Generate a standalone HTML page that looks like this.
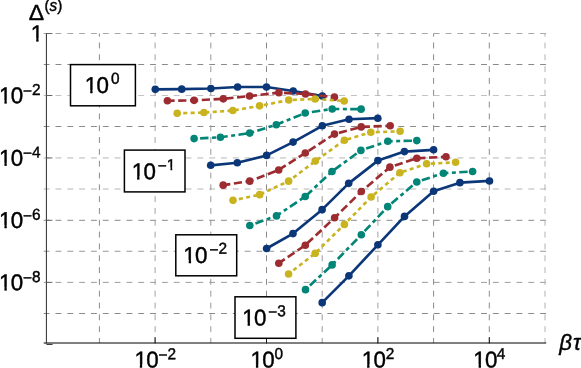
<!DOCTYPE html>
<html><head><meta charset="utf-8"><title>chart</title>
<style>html,body{margin:0;padding:0;background:#fff}svg{display:block}text{filter:grayscale(1);font-family:"Liberation Sans",sans-serif;fill:#000;stroke:#000;stroke-width:0.42px}</style></head>
<body>
<svg width="581" height="368" viewBox="0 0 581 368">
<rect width="581" height="368" fill="#fff"/>
<line x1="43.7" y1="33.50" x2="546.6" y2="33.50" stroke="#a8a8a8" stroke-width="1" stroke-dasharray="5.91 5.91"/>
<line x1="43.7" y1="64.50" x2="546.6" y2="64.50" stroke="#8a8a8a" stroke-width="1" stroke-dasharray="5.91 5.91"/>
<line x1="43.7" y1="95.50" x2="546.6" y2="95.50" stroke="#c2c2c2" stroke-width="1" stroke-dasharray="5.91 5.91"/>
<line x1="43.7" y1="126.50" x2="546.6" y2="126.50" stroke="#8a8a8a" stroke-width="1" stroke-dasharray="5.91 5.91"/>
<line x1="43.7" y1="157.94" x2="546.6" y2="157.94" stroke="#b6b6b6" stroke-width="1" stroke-dasharray="5.91 5.91"/>
<line x1="43.7" y1="189.00" x2="546.6" y2="189.00" stroke="#b6b6b6" stroke-width="1" stroke-dasharray="5.91 5.91"/>
<line x1="43.7" y1="220.30" x2="546.6" y2="220.30" stroke="#8a8a8a" stroke-width="1" stroke-dasharray="5.91 5.91"/>
<line x1="43.7" y1="251.27" x2="546.6" y2="251.27" stroke="#999999" stroke-width="1" stroke-dasharray="5.91 5.91"/>
<line x1="43.7" y1="282.38" x2="546.6" y2="282.38" stroke="#9c9c9c" stroke-width="1" stroke-dasharray="5.91 5.91"/>
<line x1="43.7" y1="313.50" x2="546.6" y2="313.50" stroke="#8a8a8a" stroke-width="1" stroke-dasharray="5.91 5.91"/>
<line x1="99.40" y1="33.5" x2="99.40" y2="343" stroke="#8a8a8a" stroke-width="1" stroke-dasharray="5.91 5.91" stroke-dashoffset="2.8"/>
<line x1="155.10" y1="33.5" x2="155.10" y2="343" stroke="#a2a2a2" stroke-width="1" stroke-dasharray="5.91 5.91" stroke-dashoffset="2.8"/>
<line x1="210.80" y1="33.5" x2="210.80" y2="343" stroke="#989898" stroke-width="1" stroke-dasharray="5.91 5.91" stroke-dashoffset="2.8"/>
<line x1="266.50" y1="33.5" x2="266.50" y2="343" stroke="#8a8a8a" stroke-width="1" stroke-dasharray="5.91 5.91" stroke-dashoffset="2.8"/>
<line x1="322.20" y1="33.5" x2="322.20" y2="343" stroke="#989898" stroke-width="1" stroke-dasharray="5.91 5.91" stroke-dashoffset="2.8"/>
<line x1="377.90" y1="33.5" x2="377.90" y2="343" stroke="#a2a2a2" stroke-width="1" stroke-dasharray="5.91 5.91" stroke-dashoffset="2.8"/>
<line x1="433.60" y1="33.5" x2="433.60" y2="343" stroke="#8a8a8a" stroke-width="1" stroke-dasharray="5.91 5.91" stroke-dashoffset="2.8"/>
<line x1="489.30" y1="33.5" x2="489.30" y2="343" stroke="#8a8a8a" stroke-width="1" stroke-dasharray="5.91 5.91" stroke-dashoffset="2.8"/>
<line x1="545.00" y1="33.5" x2="545.00" y2="343" stroke="#b2b2b2" stroke-width="1" stroke-dasharray="5.91 5.91" stroke-dashoffset="2.8"/>
<line x1="43.7" y1="343" x2="546.2" y2="343" stroke="#000" stroke-width="1"/>
<line x1="46.4" y1="33" x2="46.4" y2="343.5" stroke="#2a2a2a" stroke-width="1"/>
<line x1="155.10" y1="337" x2="155.10" y2="343.5" stroke="#1a1a1a" stroke-width="1"/>
<line x1="266.50" y1="337" x2="266.50" y2="343.5" stroke="#1a1a1a" stroke-width="1"/>
<line x1="377.90" y1="337" x2="377.90" y2="343.5" stroke="#1a1a1a" stroke-width="1"/>
<line x1="489.30" y1="337" x2="489.30" y2="343.5" stroke="#1a1a1a" stroke-width="1"/>
<line x1="46.4" y1="33.50" x2="52.4" y2="33.50" stroke="#666" stroke-width="1"/>
<line x1="46.4" y1="95.50" x2="52.4" y2="95.50" stroke="#666" stroke-width="1"/>
<line x1="46.4" y1="157.94" x2="52.4" y2="157.94" stroke="#666" stroke-width="1"/>
<line x1="46.4" y1="220.30" x2="52.4" y2="220.30" stroke="#666" stroke-width="1"/>
<line x1="46.4" y1="282.38" x2="52.4" y2="282.38" stroke="#666" stroke-width="1"/>
<line x1="46.4" y1="344.4" x2="52.6" y2="344.4" stroke="#2a2a2a" stroke-width="1"/>
<path d="M155.30 89.35 L181.70 89.15 L210.90 88.55 L237.60 86.95 L266.50 86.95 L293.20 90.95 L322.30 96.06" fill="none" stroke="#0b3779" stroke-width="2.65" stroke-linejoin="round"/>
<g fill="#0b3779"><circle cx="155.30" cy="89.35" r="3.8"/><circle cx="181.70" cy="89.15" r="3.8"/><circle cx="210.90" cy="88.55" r="3.8"/><circle cx="237.60" cy="86.95" r="3.8"/><circle cx="266.50" cy="86.95" r="3.8"/><circle cx="293.20" cy="90.95" r="3.8"/><circle cx="322.30" cy="96.06" r="3.8"/></g>
<path d="M167.40 100.76 L194.10 100.36 L223.30 98.86 L249.60 96.06 L278.90 92.65 L305.50 94.05 L334.40 97.16" fill="none" stroke="#9d2c31" stroke-width="2.65" stroke-linejoin="round" stroke-dasharray="8.2 3.6" stroke-dashoffset="1.0"/>
<g fill="#9d2c31"><circle cx="167.40" cy="100.76" r="3.8"/><circle cx="194.10" cy="100.36" r="3.8"/><circle cx="223.30" cy="98.86" r="3.8"/><circle cx="249.60" cy="96.06" r="3.8"/><circle cx="278.90" cy="92.65" r="3.8"/><circle cx="305.50" cy="94.05" r="3.8"/><circle cx="334.40" cy="97.16" r="3.8"/></g>
<path d="M177.20 113.27 L203.90 112.57 L232.80 110.57 L259.60 105.87 L288.70 100.06 L315.10 98.96 L344.20 100.96" fill="none" stroke="#c9b41f" stroke-width="2.65" stroke-linejoin="round" stroke-dasharray="4.05 3.33" stroke-dashoffset="1.35"/>
<g fill="#c9b41f"><circle cx="177.20" cy="113.27" r="3.8"/><circle cx="203.90" cy="112.57" r="3.8"/><circle cx="232.80" cy="110.57" r="3.8"/><circle cx="259.60" cy="105.87" r="3.8"/><circle cx="288.70" cy="100.06" r="3.8"/><circle cx="315.10" cy="98.96" r="3.8"/><circle cx="344.20" cy="100.96" r="3.8"/></g>
<path d="M194.10 138.60 L220.40 137.30 L249.70 133.09 L276.30 124.68 L305.20 113.07 L332.20 108.97 L361.10 109.17" fill="none" stroke="#008577" stroke-width="2.65" stroke-linejoin="round" stroke-dasharray="8.4 3.5 4.0 3.39" stroke-dashoffset="13.29"/>
<g fill="#008577"><circle cx="194.10" cy="138.60" r="3.8"/><circle cx="220.40" cy="137.30" r="3.8"/><circle cx="249.70" cy="133.09" r="3.8"/><circle cx="276.30" cy="124.68" r="3.8"/><circle cx="305.20" cy="113.07" r="3.8"/><circle cx="332.20" cy="108.97" r="3.8"/><circle cx="361.10" cy="109.17" r="3.8"/></g>
<path d="M210.70 165.32 L237.30 162.72 L266.60 155.42 L293.10 142.10 L322.30 125.79 L349.00 119.28 L377.80 118.18" fill="none" stroke="#0b3779" stroke-width="2.65" stroke-linejoin="round"/>
<g fill="#0b3779"><circle cx="210.70" cy="165.32" r="3.8"/><circle cx="237.30" cy="162.72" r="3.8"/><circle cx="266.60" cy="155.42" r="3.8"/><circle cx="293.10" cy="142.10" r="3.8"/><circle cx="322.30" cy="125.79" r="3.8"/><circle cx="349.00" cy="119.28" r="3.8"/><circle cx="377.80" cy="118.18" r="3.8"/></g>
<path d="M223.20 185.14 L249.70 181.14 L278.70 169.93 L305.30 153.01 L334.50 134.09 L361.20 126.89 L390.20 125.79" fill="none" stroke="#9d2c31" stroke-width="2.65" stroke-linejoin="round" stroke-dasharray="8.2 3.6" stroke-dashoffset="1.0"/>
<g fill="#9d2c31"><circle cx="223.20" cy="185.14" r="3.8"/><circle cx="249.70" cy="181.14" r="3.8"/><circle cx="278.70" cy="169.93" r="3.8"/><circle cx="305.30" cy="153.01" r="3.8"/><circle cx="334.50" cy="134.09" r="3.8"/><circle cx="361.20" cy="126.89" r="3.8"/><circle cx="390.20" cy="125.79" r="3.8"/></g>
<path d="M233.00 200.36 L259.70 194.65 L288.60 181.14 L315.30 161.12 L344.40 140.20 L370.80 132.29 L400.10 131.29" fill="none" stroke="#c9b41f" stroke-width="2.65" stroke-linejoin="round" stroke-dasharray="4.05 3.33" stroke-dashoffset="1.35"/>
<g fill="#c9b41f"><circle cx="233.00" cy="200.36" r="3.8"/><circle cx="259.70" cy="194.65" r="3.8"/><circle cx="288.60" cy="181.14" r="3.8"/><circle cx="315.30" cy="161.12" r="3.8"/><circle cx="344.40" cy="140.20" r="3.8"/><circle cx="370.80" cy="132.29" r="3.8"/><circle cx="400.10" cy="131.29" r="3.8"/></g>
<path d="M249.80 225.49 L276.50 215.88 L305.20 196.56 L332.00 171.43 L360.90 150.41 L387.80 141.30 L416.80 140.60" fill="none" stroke="#008577" stroke-width="2.65" stroke-linejoin="round" stroke-dasharray="8.4 3.5 4.0 3.39" stroke-dashoffset="13.29"/>
<g fill="#008577"><circle cx="249.80" cy="225.49" r="3.8"/><circle cx="276.50" cy="215.88" r="3.8"/><circle cx="305.20" cy="196.56" r="3.8"/><circle cx="332.00" cy="171.43" r="3.8"/><circle cx="360.90" cy="150.41" r="3.8"/><circle cx="387.80" cy="141.30" r="3.8"/><circle cx="416.80" cy="140.60" r="3.8"/></g>
<path d="M266.60 248.51 L293.00 233.59 L322.10 209.67 L348.70 183.34 L377.90 160.62 L404.40 151.61 L433.60 149.81" fill="none" stroke="#0b3779" stroke-width="2.65" stroke-linejoin="round"/>
<g fill="#0b3779"><circle cx="266.60" cy="248.51" r="3.8"/><circle cx="293.00" cy="233.59" r="3.8"/><circle cx="322.10" cy="209.67" r="3.8"/><circle cx="348.70" cy="183.34" r="3.8"/><circle cx="377.90" cy="160.62" r="3.8"/><circle cx="404.40" cy="151.61" r="3.8"/><circle cx="433.60" cy="149.81" r="3.8"/></g>
<path d="M278.80 263.22 L305.30 245.20 L334.60 217.78 L361.30 191.55 L389.90 167.13 L416.80 158.32 L446.00 156.82" fill="none" stroke="#9d2c31" stroke-width="2.65" stroke-linejoin="round" stroke-dasharray="8.2 3.6" stroke-dashoffset="1.0"/>
<g fill="#9d2c31"><circle cx="278.80" cy="263.22" r="3.8"/><circle cx="305.30" cy="245.20" r="3.8"/><circle cx="334.60" cy="217.78" r="3.8"/><circle cx="361.30" cy="191.55" r="3.8"/><circle cx="389.90" cy="167.13" r="3.8"/><circle cx="416.80" cy="158.32" r="3.8"/><circle cx="446.00" cy="156.82" r="3.8"/></g>
<path d="M288.60 273.93 L315.20 253.31 L344.40 224.38 L371.10 197.06 L399.90 172.73 L426.60 163.82 L455.60 162.32" fill="none" stroke="#c9b41f" stroke-width="2.65" stroke-linejoin="round" stroke-dasharray="4.05 3.33" stroke-dashoffset="1.35"/>
<g fill="#c9b41f"><circle cx="288.60" cy="273.93" r="3.8"/><circle cx="315.20" cy="253.31" r="3.8"/><circle cx="344.40" cy="224.38" r="3.8"/><circle cx="371.10" cy="197.06" r="3.8"/><circle cx="399.90" cy="172.73" r="3.8"/><circle cx="426.60" cy="163.82" r="3.8"/><circle cx="455.60" cy="162.32" r="3.8"/></g>
<path d="M305.50 289.65 L332.10 264.92 L361.30 234.69 L387.70 206.67 L416.80 181.94 L443.40 173.23 L472.60 171.43" fill="none" stroke="#008577" stroke-width="2.65" stroke-linejoin="round" stroke-dasharray="8.4 3.5 4.0 3.39" stroke-dashoffset="13.29"/>
<g fill="#008577"><circle cx="305.50" cy="289.65" r="3.8"/><circle cx="332.10" cy="264.92" r="3.8"/><circle cx="361.30" cy="234.69" r="3.8"/><circle cx="387.70" cy="206.67" r="3.8"/><circle cx="416.80" cy="181.94" r="3.8"/><circle cx="443.40" cy="173.23" r="3.8"/><circle cx="472.60" cy="171.43" r="3.8"/></g>
<path d="M322.20 302.66 L348.90 275.84 L377.90 244.80 L404.50 216.38 L433.60 191.25 L459.90 182.64 L489.50 180.94" fill="none" stroke="#0b3779" stroke-width="2.65" stroke-linejoin="round"/>
<g fill="#0b3779"><circle cx="322.20" cy="302.66" r="3.8"/><circle cx="348.90" cy="275.84" r="3.8"/><circle cx="377.90" cy="244.80" r="3.8"/><circle cx="404.50" cy="216.38" r="3.8"/><circle cx="433.60" cy="191.25" r="3.8"/><circle cx="459.90" cy="182.64" r="3.8"/><circle cx="489.50" cy="180.94" r="3.8"/></g>
<rect x="70.5" y="64.6" width="64.9" height="41.2" fill="#fff" stroke="#000" stroke-width="1.5"/>
<text transform="translate(84.80 93.10) rotate(0.03) scale(1 1.025)" font-size="22.3" >1<tspan dx="-0.6">0</tspan><tspan font-size="15.4" dy="-9.07" dx="1.9000000000000001">0</tspan></text>
<path d="M85.13 90.09H90.21V95.30H85.13ZM92.58 90.09H97.10V95.30H92.58Z" fill="#fff"/>
<rect x="124.4" y="150.1" width="60.599999999999994" height="41.80000000000001" fill="#fff" stroke="#000" stroke-width="1.5"/>
<text transform="translate(131.70 179.30) rotate(0.03) scale(1 1.025)" font-size="22.3" >1<tspan dx="-0.6">0</tspan><tspan font-size="15.4" dy="-8.00" dx="1.9000000000000001">−</tspan><tspan font-size="15.4" dy="-1.07">1</tspan></text>
<path d="M167.02 167.52H170.47V172.20H167.02ZM172.23 167.52H175.29V172.20H172.23Z" fill="#fff"/>
<path d="M132.03 176.29H137.11V181.50H132.03ZM139.48 176.29H144.00V181.50H139.48Z" fill="#fff"/>
<rect x="175.8" y="234.8" width="60.89999999999998" height="41.0" fill="#fff" stroke="#000" stroke-width="1.5"/>
<text transform="translate(183.30 263.10) rotate(0.03) scale(1 1.025)" font-size="22.3" >1<tspan dx="-0.6">0</tspan><tspan font-size="15.4" dy="-8.00" dx="1.9000000000000001">−</tspan><tspan font-size="15.4" dy="-1.07">2</tspan></text>
<path d="M183.63 260.09H188.71V265.30H183.63ZM191.08 260.09H195.60V265.30H191.08Z" fill="#fff"/>
<rect x="235.0" y="296.8" width="60.89999999999998" height="41.5" fill="#fff" stroke="#000" stroke-width="1.5"/>
<text transform="translate(242.20 325.40) rotate(0.03) scale(1 1.025)" font-size="22.3" >1<tspan dx="-0.6">0</tspan><tspan font-size="15.4" dy="-8.00" dx="1.9000000000000001">−</tspan><tspan font-size="15.4" dy="-1.07">3</tspan></text>
<path d="M242.53 322.39H247.61V327.60H242.53ZM249.98 322.39H254.50V327.60H249.98Z" fill="#fff"/>
<text transform="translate(30.80 41.30) rotate(0.03) scale(1 1.025)" font-size="22.3" >1</text>
<path d="M31.13 38.29H36.21V43.50H31.13ZM38.58 38.29H43.10V43.50H38.58Z" fill="#fff"/>
<text transform="translate(-1.00 103.30) rotate(0.03) scale(1 1.025)" font-size="22.3" >1<tspan dx="-0.6">0</tspan><tspan font-size="15.4" dy="-7.02" dx="-0.10000000000000003">−</tspan><tspan font-size="15.4" dy="-1.07">2</tspan></text>
<path d="M-0.67 100.29H4.41V105.50H-0.67ZM6.78 100.29H11.30V105.50H6.78Z" fill="#fff"/>
<text transform="translate(-1.00 165.74) rotate(0.03) scale(1 1.025)" font-size="22.3" >1<tspan dx="-0.6">0</tspan><tspan font-size="15.4" dy="-7.02" dx="-0.10000000000000003">−</tspan><tspan font-size="15.4" dy="-1.07">4</tspan></text>
<path d="M-0.67 162.73H4.41V167.94H-0.67ZM6.78 162.73H11.30V167.94H6.78Z" fill="#fff"/>
<text transform="translate(-1.00 228.10) rotate(0.03) scale(1 1.025)" font-size="22.3" >1<tspan dx="-0.6">0</tspan><tspan font-size="15.4" dy="-7.02" dx="-0.10000000000000003">−</tspan><tspan font-size="15.4" dy="-1.07">6</tspan></text>
<path d="M-0.67 225.09H4.41V230.30H-0.67ZM6.78 225.09H11.30V230.30H6.78Z" fill="#fff"/>
<text transform="translate(-1.00 290.18) rotate(0.03) scale(1 1.025)" font-size="22.3" >1<tspan dx="-0.6">0</tspan><tspan font-size="15.4" dy="-7.02" dx="-0.10000000000000003">−</tspan><tspan font-size="15.4" dy="-1.07">8</tspan></text>
<path d="M-0.67 287.17H4.41V292.38H-0.67ZM6.78 287.17H11.30V292.38H6.78Z" fill="#fff"/>
<text transform="translate(134.40 367.40) rotate(0.03) scale(1 1.025)" font-size="22.3" >1<tspan dx="-0.6">0</tspan><tspan font-size="15.4" dy="-7.02" dx="0.0">−</tspan><tspan font-size="15.4" dy="-1.07">2</tspan></text>
<path d="M134.73 364.39H139.81V369.60H134.73ZM142.18 364.39H146.70V369.60H142.18Z" fill="#fff"/>
<text transform="translate(250.50 367.40) rotate(0.03) scale(1 1.025)" font-size="22.3" >1<tspan dx="-0.6">0</tspan><tspan font-size="15.4" dy="-8.10" dx="-0.3">0</tspan></text>
<path d="M250.83 364.39H255.91V369.60H250.83ZM258.28 364.39H262.80V369.60H258.28Z" fill="#fff"/>
<text transform="translate(361.70 367.40) rotate(0.03) scale(1 1.025)" font-size="22.3" >1<tspan dx="-0.6">0</tspan><tspan font-size="15.4" dy="-8.10" dx="-0.2">2</tspan></text>
<path d="M362.03 364.39H367.11V369.60H362.03ZM369.48 364.39H374.00V369.60H369.48Z" fill="#fff"/>
<text transform="translate(473.20 367.40) rotate(0.03) scale(1 1.025)" font-size="22.3" >1<tspan dx="-0.6">0</tspan><tspan font-size="15.4" dy="-8.10" dx="-0.7">4</tspan></text>
<path d="M473.53 364.39H478.61V369.60H473.53ZM480.98 364.39H485.50V369.60H480.98Z" fill="#fff"/>
<text transform="translate(28.65 19.75) scale(1.03 1.0)" font-size="22.3">Δ</text>
<text transform="translate(44.5 11.3) scale(1 1.12)" font-size="15.3">(<tspan font-style="italic">s</tspan>)</text>
<text x="559.2" y="350.1" font-size="22.3" font-style="italic">β<tspan dx="1">τ</tspan></text>
</svg></body></html>
